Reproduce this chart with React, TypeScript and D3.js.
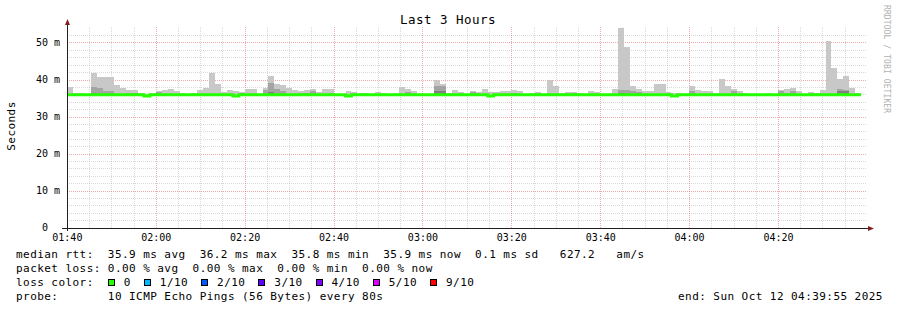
import React from "react";
import * as d3 from "d3";

// ---- data ----
const START = Date.UTC(2025, 9, 12, 1, 39, 55);
const END = Date.UTC(2025, 9, 12, 4, 39, 55);
const STEP_SEC = 80;

// top of the light smoke per 80 s step (ms)
const smokeMax = [
  38.1, 36.5, 36.5, 36.3, 42.0, 40.8, 40.8, 40.8, 38.6, 37.9,
  37.3, 37.3, 36.4, 36.3, 36.4, 37.0, 37.3, 37.7, 37.0, 36.4,
  36.2, 36.4, 37.2, 37.9, 41.8, 39.0, 36.7, 37.3, 37.0, 36.8,
  37.7, 37.7, 36.2, 37.9, 41.1, 38.8, 38.6, 37.9, 37.3, 37.0,
  37.3, 37.7, 36.7, 37.7, 37.7, 36.2, 36.2, 37.0, 36.7, 36.5,
  36.5, 36.2, 36.8, 36.5, 36.2, 36.5, 38.2, 37.7, 37.0, 36.2,
  36.2, 36.2, 40.0, 39.0, 36.5, 37.3, 36.7, 36.2, 37.0, 36.8,
  37.7, 36.7, 36.7, 37.0, 37.0, 37.3, 37.0, 36.2, 36.5, 36.7,
  36.2, 40.0, 38.4, 36.6, 36.8, 36.8, 36.5, 36.2, 37.0, 36.8,
  36.2, 36.2, 37.6, 54.0, 48.9, 38.4, 37.6, 37.0, 37.0, 38.9,
  38.9, 36.8, 36.6, 36.5, 36.2, 38.4, 37.3, 37.0, 37.0, 36.5,
  40.3, 38.4, 37.6, 37.0, 36.5, 36.2, 36.2, 36.2, 36.5, 36.2,
  37.3, 37.6, 37.8, 37.0, 36.2, 36.8, 36.5, 37.3, 50.5, 43.3,
  40.3, 41.1, 37.8, 36.5,
];

// top of the mid-grey smoke
const smokeMid = [
  36.0, 36.0, 36.0, 36.0, 38.1, 37.9, 37.0, 37.0, 36.0, 36.0,
  36.6, 36.6, 36.0, 36.0, 36.0, 36.8, 36.0, 36.0, 36.0, 36.0,
  36.0, 36.0, 36.0, 36.0, 36.0, 36.0, 36.0, 36.0, 36.0, 36.6,
  36.0, 36.0, 36.0, 37.4, 39.1, 37.7, 37.0, 36.0, 36.0, 36.5,
  36.5, 37.0, 36.0, 36.0, 36.6, 36.0, 36.0, 36.0, 36.0, 36.0,
  36.0, 36.0, 36.0, 36.0, 36.0, 36.0, 36.0, 36.7, 36.0, 36.0,
  36.0, 36.0, 38.4, 38.4, 36.0, 36.0, 36.0, 36.0, 36.7, 36.0,
  36.0, 36.0, 36.0, 36.0, 36.0, 36.5, 36.0, 36.0, 36.0, 36.0,
  36.0, 36.0, 36.0, 36.0, 36.0, 36.5, 36.0, 36.0, 36.0, 36.0,
  36.0, 36.0, 36.0, 37.3, 37.3, 37.0, 36.8, 36.0, 36.0, 36.0,
  36.0, 36.0, 36.0, 36.0, 36.0, 37.0, 36.0, 36.0, 36.0, 36.0,
  36.0, 36.0, 37.0, 36.0, 36.0, 36.0, 36.0, 36.0, 36.0, 36.0,
  37.0, 36.5, 37.0, 36.0, 36.0, 36.0, 36.0, 36.0, 36.0, 36.0,
  37.6, 37.3, 36.0, 36.0,
];

// top of the darkest smoke
const smokeLow = [
  36.0, 36.0, 36.0, 36.0, 36.6, 36.0, 36.0, 36.0, 36.0, 36.0,
  36.0, 36.0, 36.0, 36.0, 36.0, 36.0, 36.0, 36.0, 36.0, 36.0,
  36.0, 36.0, 36.0, 36.0, 36.0, 36.0, 36.0, 36.0, 36.0, 36.0,
  36.0, 36.0, 36.0, 36.0, 36.7, 36.0, 36.0, 36.0, 36.0, 36.0,
  36.0, 36.0, 36.0, 36.0, 36.0, 36.0, 36.0, 36.0, 36.0, 36.0,
  36.0, 36.0, 36.0, 36.0, 36.0, 36.0, 36.0, 36.0, 36.0, 36.0,
  36.0, 36.0, 36.9, 36.9, 36.0, 36.0, 36.0, 36.0, 36.0, 36.0,
  36.0, 36.0, 36.0, 36.0, 36.0, 36.0, 36.0, 36.0, 36.0, 36.0,
  36.0, 36.0, 36.0, 36.0, 36.0, 36.0, 36.0, 36.0, 36.0, 36.0,
  36.0, 36.0, 36.0, 36.6, 36.0, 36.0, 36.0, 36.0, 36.0, 36.0,
  36.0, 36.0, 36.0, 36.0, 36.0, 36.0, 36.0, 36.0, 36.0, 36.0,
  36.0, 36.0, 36.0, 36.0, 36.0, 36.0, 36.0, 36.0, 36.0, 36.0,
  36.0, 36.0, 36.0, 36.0, 36.0, 36.0, 36.0, 36.0, 36.0, 36.0,
  37.0, 37.0, 36.0, 36.0,
];

// median rtt per step
const median = [
  36.0, 36.0, 36.0, 36.0, 36.0, 36.0, 36.0, 36.0, 36.0, 36.0,
  36.0, 36.0, 36.0, 35.7, 36.0, 36.0, 36.0, 36.0, 36.0, 36.0,
  36.0, 36.0, 36.0, 36.0, 36.0, 36.0, 36.0, 36.0, 35.7, 36.0,
  36.0, 36.0, 36.0, 36.0, 36.0, 36.0, 36.0, 36.0, 36.0, 36.0,
  36.0, 36.0, 36.0, 36.0, 36.0, 36.0, 36.0, 35.7, 36.0, 36.0,
  36.0, 36.0, 36.0, 36.0, 36.0, 36.0, 36.0, 36.0, 36.0, 36.0,
  36.0, 36.0, 36.0, 36.0, 36.0, 36.0, 36.0, 36.0, 36.0, 36.0,
  36.0, 35.7, 36.0, 36.0, 36.0, 36.0, 36.0, 36.0, 36.0, 36.0,
  36.0, 36.0, 36.0, 36.0, 36.0, 36.0, 36.0, 36.0, 36.0, 36.0,
  36.0, 36.0, 36.0, 36.0, 36.0, 36.0, 36.0, 36.0, 36.0, 36.0,
  36.0, 36.0, 35.7, 36.0, 36.0, 36.0, 36.0, 36.0, 36.0, 36.0,
  36.0, 36.0, 36.0, 36.0, 36.0, 36.0, 36.0, 36.0, 36.0, 36.0,
  36.0, 36.0, 36.0, 36.0, 36.0, 36.0, 36.0, 36.0, 36.0, 36.0,
  36.0, 36.0, 36.0, 36.0,
];

const yTickValues = [0, 10, 20, 30, 40, 50];
const yTickLabels = ["0", "10 m", "20 m", "30 m", "40 m", "50 m"];

const lossLabels = ["0", "1/10", "2/10", "3/10", "4/10", "5/10", "9/10"];
const lossColors = ["#26ff00", "#00b8ff", "#0059ff", "#5e00ff", "#7e00ff", "#dd00ff", "#ff0000"];

const legendLine1 = "median rtt:  35.9 ms avg  36.2 ms max  35.8 ms min  35.9 ms now  0.1 ms sd   627.2   am/s";
const legendLine2 = "packet loss: 0.00 % avg  0.00 % max  0.00 % min  0.00 % now";
const legendLine3 = "loss color:";
const legendLine4 = "probe:       10 ICMP Echo Pings (56 Bytes) every 80s";
const endText = "end: Sun Oct 12 04:39:55 2025";
const titleText = "Last 3 Hours";
const yTitle = "Seconds";
const watermark = "RRDTOOL / TOBI OETIKER";

// ---- layout ----
const W = 897;
const H = 310;
const X0 = 67;
const X1 = 867;
const Y0 = 228;
const PX_PER_MS = 3.7;
const Y_MAX = 54.3;
const MONO = "'DejaVu Sans Mono', monospace";
const CW = 7.06;

const crisp = (v: number) => Math.floor(v) + 0.5;
const nb = (s: string) => s.replace(/ /g, "\u00a0");

export default function App() {
  const x = d3.scaleUtc().domain([new Date(START), new Date(END)]).range([X0, X1]);
  const y = d3.scaleLinear().domain([0, Y_MAX]).range([Y0, Y0 - Y_MAX * PX_PER_MS]);
  const yTop = y(Y_MAX);

  const stepTime = (i: number) => new Date(START + i * STEP_SEC * 1000);

  const minorX = d3.utcMinute.every(5)!.range(new Date(START), new Date(END));
  const majorX = d3.utcMinute.every(20)!.range(new Date(START), new Date(END));
  const majorSet = new Set(majorX.map((d) => d.getTime()));
  const fmt = d3.utcFormat("%H:%M");

  const minorY = d3.range(2, 53, 2).filter((v) => v % 10 !== 0);
  const majorY = yTickValues.filter((v) => v > 0);

  const medPts: [Date, number][] = median.map((m, i) => [stepTime(i), m]);
  medPts.push([stepTime(median.length), median[median.length - 1]]);
  const medLine = d3
    .line<[Date, number]>()
    .x((d) => x(d[0]))
    .y((d) => y(d[1]))
    .curve(d3.curveStepAfter)(medPts);

  const layers = [
    { data: smokeMax, color: "#c8c8c8" },
    { data: smokeMid, color: "#a4a4a4" },
    { data: smokeLow, color: "#808080" },
  ];

  let bx = 16 + 13 * CW;
  const lossItems = lossLabels.map((lab, i) => {
    const item = { lab, color: lossColors[i], bx, lx: bx + 16 };
    bx = bx + 16 + lab.length * CW + 13;
    return item;
  });

  const legendStyle: React.CSSProperties = {
    fontFamily: MONO,
    fontSize: 11,
    letterSpacing: "0.44px",
  };

  return (
    <svg width={W} height={H} viewBox={`0 0 ${W} ${H}`} style={{ display: "block", position: "absolute", left: 0, top: 0, background: "#fff" }}>
      <rect x={0} y={0} width={W} height={H} fill="#ffffff" />

      {/* minor grid */}
      <g stroke="rgba(143,143,143,0.34)" strokeWidth={1} strokeDasharray="1,1" shapeRendering="crispEdges">
        {minorY.map((v) => (
          <line key={"my" + v} x1={X0} x2={X1} y1={crisp(y(v))} y2={crisp(y(v))} />
        ))}
        {minorX
          .filter((d) => !majorSet.has(d.getTime()))
          .map((d) => (
            <line key={"mx" + d.getTime()} x1={crisp(x(d))} x2={crisp(x(d))} y1={Y0} y2={yTop} />
          ))}
      </g>
      {/* major grid */}
      <g stroke="rgba(222,79,79,0.48)" strokeWidth={1} strokeDasharray="1,1" shapeRendering="crispEdges">
        {majorY.map((v) => (
          <line key={"My" + v} x1={X0} x2={X1} y1={crisp(y(v))} y2={crisp(y(v))} />
        ))}
        {majorX.map((d) => (
          <line key={"Mx" + d.getTime()} x1={crisp(x(d))} x2={crisp(x(d))} y1={Y0} y2={yTop} />
        ))}
      </g>

      {/* smoke */}
      {layers.map((layer, li) => (
        <g key={"layer" + li} fill={layer.color} shapeRendering="crispEdges">
          {layer.data.map((v, i) => {
            const top = y(v);
            const bot = y(median[i]);
            if (bot - top < 0.3) return null;
            const xa = x(stepTime(i));
            const xb = x(stepTime(i + 1));
            return <rect key={i} x={xa} y={top} width={xb - xa} height={bot - top} />;
          })}
        </g>
      ))}

      {/* median line */}
      <path d={medLine || ""} fill="none" stroke="#26ff00" strokeWidth={3} />

      {/* axes */}
      <g stroke="#1f1f1f" strokeWidth={1} shapeRendering="crispEdges">
        <line x1={X0 - 5} x2={X1 + 1} y1={Y0 + 0.5} y2={Y0 + 0.5} />
        <line x1={X0 + 0.5} x2={X0 + 0.5} y1={Y0 + 3} y2={yTop - 2} />
      </g>
      <path d={`M${X0 + 0.5},${yTop - 8} L${X0 + 3},${yTop - 2} L${X0 - 2},${yTop - 2} Z`} fill="#801f1f" />
      <path d={`M${X1 + 7},${Y0 + 0.5} L${X1 + 1},${Y0 - 2} L${X1 + 1},${Y0 + 3} Z`} fill="#801f1f" />

      {/* tick labels */}
      <g style={{ fontFamily: MONO, fontSize: 10 }} fill="#000">
        {yTickValues.map((v, i) => {
          const lab = yTickLabels[i];
          const unitless = !lab.includes(" ");
          return (
            <text key={"yl" + v} x={60 - (unitless ? 12 : 0)} y={y(v) + 3.3} textAnchor="end">
              {nb(lab)}
            </text>
          );
        })}
        {majorX.map((d) => (
          <text key={"xl" + d.getTime()} x={x(d)} y={241} textAnchor="middle">
            {fmt(d)}
          </text>
        ))}
      </g>

      {/* title */}
      <text x={448} y={24} textAnchor="middle" style={{ fontFamily: MONO, fontSize: 12.5, letterSpacing: "0.47px" }} fill="#000">
        {nb(titleText)}
      </text>

      {/* y title */}
      <text transform="translate(15,126) rotate(-90)" textAnchor="middle" style={legendStyle} fill="#000">
        {yTitle}
      </text>

      {/* watermark */}
      <text transform="translate(884,5) rotate(90)" style={{ fontFamily: MONO, fontSize: 8, letterSpacing: "0.1px" }} fill="#b0b0b0">
        {nb(watermark)}
      </text>

      {/* legend */}
      <g style={legendStyle} fill="#000">
        <text x={16} y={258}>{nb(legendLine1)}</text>
        <text x={16} y={272}>{nb(legendLine2)}</text>
        <text x={16} y={286}>{nb(legendLine3)}</text>
        <text x={16} y={300}>{nb(legendLine4)}</text>
        <text x={678} y={300}>{nb(endText)}</text>
        {lossItems.map((it) => (
          <text key={"lt" + it.lab} x={it.lx} y={286}>
            {it.lab}
          </text>
        ))}
      </g>
      {lossItems.map((it) => (
        <rect
          key={"lb" + it.lab}
          x={Math.round(it.bx) + 0.5}
          y={279.5}
          width={6}
          height={6}
          fill={it.color}
          stroke="#000"
          strokeWidth={1}
        />
      ))}
    </svg>
  );
}
